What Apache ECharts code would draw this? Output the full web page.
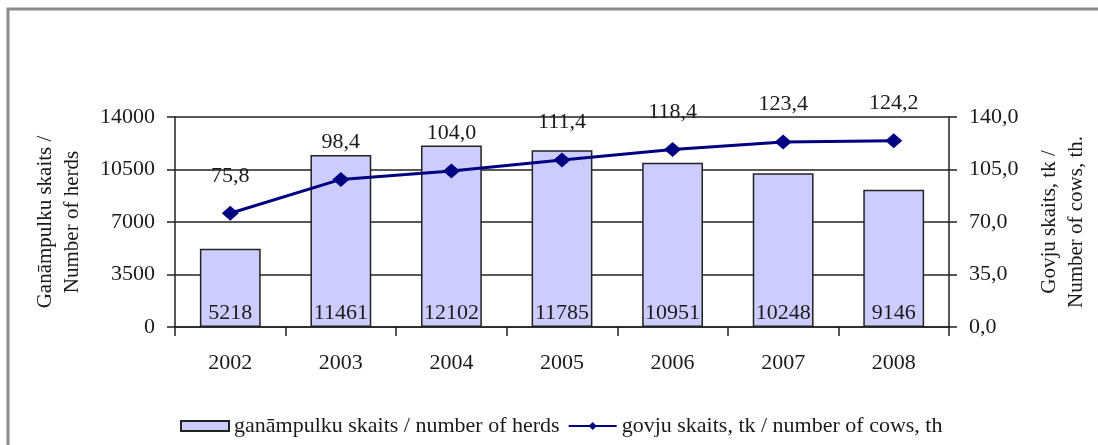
<!DOCTYPE html>
<html>
<head>
	<meta charset="UTF-8">
	<title>Ganāmpulku un govju skaits</title>
	<script src="https://cdn.jsdelivr.net/npm/echarts@6/dist/echarts.min.js"></script>
	<style>
		html, body { margin: 0; padding: 0; background: #fff; }
		#chart { width: 1098px; height: 445px; }
	</style>
</head>
<body>
	<div id="chart"></div>
	<script type="text/javascript">
		// 年份
		var years = ['2002', '2003', '2004', '2005', '2006', '2007', '2008'];
		// ganāmpulku skaits / number of herds
		var herds = [5218, 11461, 12102, 11785, 10951, 10248, 9146];
		// govju skaits, tk / number of cows, th
		var cows = [75.8, 98.4, 104.0, 111.4, 118.4, 123.4, 124.2];
		// tick labels
		var leftTicks = [0, 3500, 7000, 10500, 14000];
		var rightTicks = [0, 35, 70, 105, 140];

		var herdsName = 'ganāmpulku skaits / number of herds';
		var cowsName = 'govju skaits, tk / number of cows, th';

		var font = 'Liberation Serif';
		var ink = '#1a1a1a';

		function comma(v) {
			return v.toFixed(1).replace('.', ',');
		}

		var myChart = echarts.init(document.getElementById('chart'));

		var option = {
			animation: false,
			textStyle: { fontFamily: font, color: ink },
			graphic: [{
				type: 'rect',
				shape: { x: 8, y: 9, width: 1200, height: 600 },
				style: { fill: 'none', stroke: '#8a8a8a', lineWidth: 3 },
				z: -1
			}],
			grid: { left: 175, right: 148, top: 117, bottom: 118 },
			legend: {
				bottom: 3,
				left: 175,
				itemWidth: 48,
				itemHeight: 10,
				itemGap: 8,
				textStyle: { fontFamily: font, fontSize: 22, color: ink },
				data: [
					{ name: herdsName, icon: 'rect' },
					{ name: cowsName }
				]
			},
			xAxis: {
				type: 'category',
				data: years,
				boundaryGap: true,
				axisLine: { lineStyle: { color: '#222', width: 1.5 } },
				axisTick: { show: true, length: 9, lineStyle: { color: '#222', width: 1.5 } },
				axisLabel: { margin: 25, fontFamily: font, fontSize: 22, color: ink }
			},
			yAxis: [{
				type: 'value',
				min: leftTicks[0],
				max: leftTicks[leftTicks.length - 1],
				interval: leftTicks[1] - leftTicks[0],
				name: 'Ganāmpulku skaits /\nNumber of herds',
				nameLocation: 'middle',
				nameRotate: 90,
				nameGap: 89,
				nameTextStyle: { fontFamily: font, fontSize: 21, color: ink, lineHeight: 27 },
				axisLine: { show: true, lineStyle: { color: '#222', width: 1.5 } },
				axisTick: { show: true, length: 8, lineStyle: { color: '#222', width: 1.5 } },
				axisLabel: {
					margin: 20, fontFamily: font, fontSize: 22, color: ink,
					formatter: function (v) { return String(v); }
				},
				splitLine: { show: true, lineStyle: { color: '#222', width: 1.5 } }
			}, {
				type: 'value',
				min: rightTicks[0],
				max: rightTicks[rightTicks.length - 1],
				interval: rightTicks[1] - rightTicks[0],
				name: 'Govju skaits, tk /\nNumber of cows, th.',
				nameLocation: 'middle',
				nameRotate: 90,
				nameGap: 87,
				nameTextStyle: { fontFamily: font, fontSize: 21, color: ink, lineHeight: 27 },
				axisLine: { show: true, lineStyle: { color: '#222', width: 1.5 } },
				axisTick: { show: true, length: 8, lineStyle: { color: '#222', width: 1.5 } },
				axisLabel: {
					margin: 20, fontFamily: font, fontSize: 22, color: ink,
					formatter: function (v) { return comma(v); }
				},
				splitLine: { show: false }
			}],
			series: [{
				name: herdsName,
				type: 'bar',
				yAxisIndex: 0,
				data: herds,
				barWidth: '55%',
				itemStyle: { color: '#ccccff', borderColor: '#222', borderWidth: 1.5 },
				label: {
					show: true,
					position: 'insideBottom',
					distance: 3,
					fontFamily: font,
					fontSize: 22,
					color: ink
				},
				z: 2
			}, {
				name: cowsName,
				type: 'line',
				yAxisIndex: 1,
				data: cows,
				symbol: 'diamond',
				symbolSize: [17, 15],
				lineStyle: { color: '#000080', width: 3 },
				itemStyle: { color: '#000080' },
				label: {
					show: true,
					position: 'top',
					distance: 19,
					fontFamily: font,
					fontSize: 22,
					color: ink,
					formatter: function (p) { return comma(p.value); }
				},
				z: 3
			}]
		};

		myChart.setOption(option);
	</script>
</body>
</html>
